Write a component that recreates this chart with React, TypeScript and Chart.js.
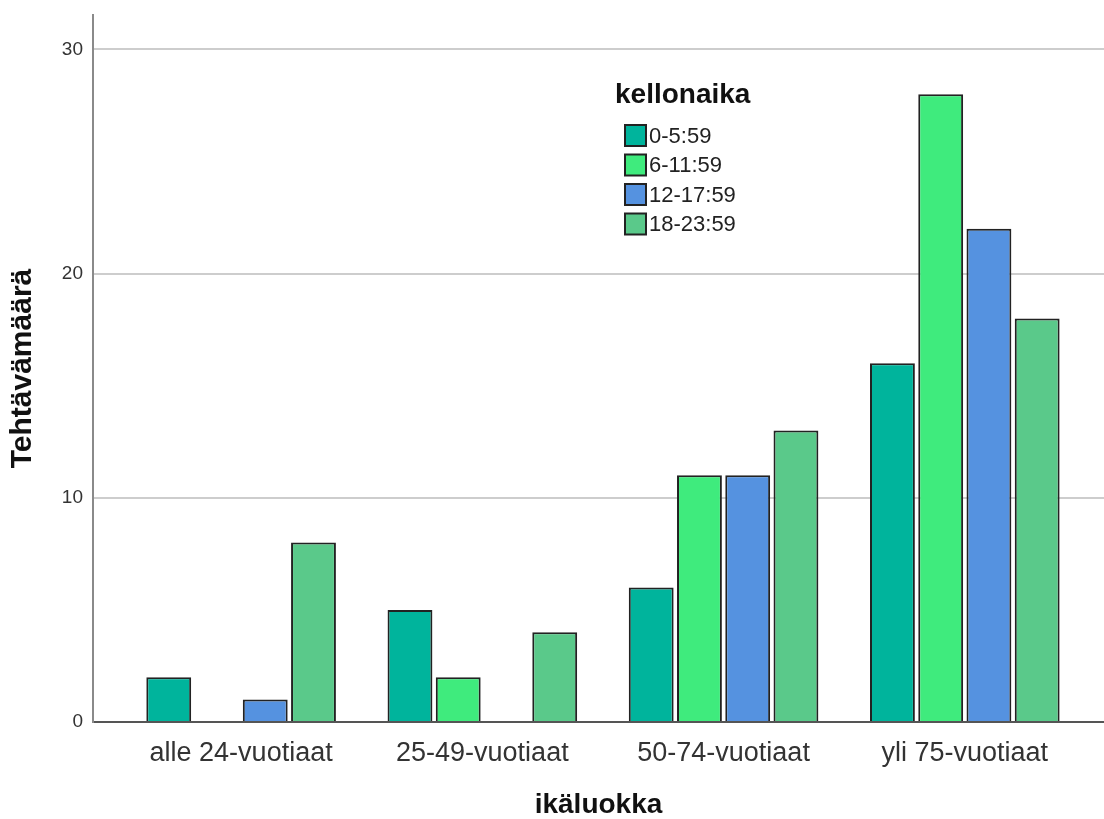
import React, { useEffect, useRef } from "react";
import { Chart, registerables } from "chart.js";

Chart.register(...registerables);

const categories = ["alle 24-vuotiaat", "25-49-vuotiaat", "50-74-vuotiaat", "yli 75-vuotiaat"];
const seriesNames = ["0-5:59", "6-11:59", "12-17:59", "18-23:59"];
const s0to6 = [2, 5, 6, 16];
const s6to12 = [null, 2, 11, 28];
const s12to18 = [1, null, 11, 22];
const s18to24 = [8, 4, 13, 18];
const seriesColors = ["#00B49C", "#3FEB7D", "#5592E0", "#5AC98A"];
const yTicks = [0, 10, 20, 30];
const legendTitle = "kellonaika";
const xTitle = "ikäluokka";
const yTitle = "Tehtävämäärä";

const FONT = "Arial, 'Liberation Sans', sans-serif";

const legendPlugin = {
  id: "customLegend",
  afterDraw(chart: any) {
    const { ctx, chartArea } = chart;
    const x0 = chartArea.left + 532;
    const y0 = chartArea.top;
    ctx.save();
    ctx.fillStyle = "#111";
    ctx.font = `bold 28px ${FONT}`;
    ctx.textBaseline = "alphabetic";
    ctx.textAlign = "left";
    ctx.fillText(legendTitle, x0 - 10, y0 + 88);
    ctx.font = `22px ${FONT}`;
    ctx.textBaseline = "middle";
    chart.data.datasets.forEach((ds: any, i: number) => {
      const by = y0 + 110 + i * 29.5;
      ctx.fillStyle = ds.backgroundColor;
      ctx.fillRect(x0, by, 21, 21);
      ctx.strokeStyle = "#222";
      ctx.lineWidth = 2;
      ctx.strokeRect(x0, by, 21, 21);
      ctx.fillStyle = "#222";
      ctx.fillText(ds.label, x0 + 24, by + 11.5);
    });
    ctx.restore();
  },
};

export default function App() {
  const ref = useRef<HTMLCanvasElement>(null);
  useEffect(() => {
    if (!ref.current) return;
    const series = [s0to6, s6to12, s12to18, s18to24];
    const chart = new Chart(ref.current, {
      type: "bar",
      data: {
        datasets: series.map((vals, k) => ({
          label: seriesNames[k],
          data: categories.map((_, i) => ({ x: i, y: vals[i] })) as any,
          backgroundColor: seriesColors[k],
          borderColor: "#222",
          borderWidth: 2,
          barPercentage: 0.93,
          categoryPercentage: 0.8,
        })),
      },
      options: {
        animation: false,
        responsive: true,
        maintainAspectRatio: false,
        layout: { padding: { top: 15, right: 0, left: 0, bottom: 0 } },
        plugins: { legend: { display: false }, tooltip: { enabled: false } },
        scales: {
          x: {
            type: "linear",
            offset: false,
            min: -0.614,
            max: 3.577,
            grid: { display: false, drawTicks: false, offset: false },
            border: { display: false },
            afterBuildTicks: (scale: any) => {
              scale.ticks = categories.map((_, i) => ({ value: i }));
            },
            afterFit: (scale: any) => {
              scale.height = 97;
              scale.paddingLeft = 0;
              scale.paddingRight = 0;
            },
            ticks: {
              autoSkip: false,
              maxRotation: 0,
              padding: 15,
              color: "#333",
              font: { family: FONT, size: 27 },
              callback: (v: any) => categories[v] ?? "",
            },
            title: {
              display: true,
              text: xTitle,
              color: "#111",
              font: { family: FONT, size: 28, weight: "bold", lineHeight: 1 },
              padding: { top: 0, bottom: 0 },
            },
          },
          y: {
            type: "linear",
            min: 0,
            max: 31.53,
            afterBuildTicks: (scale: any) => {
              scale.ticks = yTicks.map((v) => ({ value: v }));
            },
            afterFit: (scale: any) => {
              scale.width = 93;
              scale.paddingTop = 0;
              scale.paddingBottom = 0;
            },
            grid: {
              drawTicks: false,
              color: (c: any) => (c.tick && c.tick.value === 0 ? "#555" : "#cdcdcd"),
              lineWidth: 2,
            },
            border: { color: "#8a8a8a", width: 2 },
            ticks: {
              padding: 10,
              color: "#333",
              font: { family: FONT, size: 19 },
            },
            title: {
              display: true,
              text: yTitle,
              color: "#111",
              font: { family: FONT, size: 30, weight: "bold", lineHeight: 1 },
              padding: { top: 8, bottom: 0 },
            },
          },
        },
      },
      plugins: [legendPlugin],
    });
    return () => chart.destroy();
  }, []);
  return (
    <div style={{ position: "absolute", left: 0, top: 0, width: 1104, height: 819, background: "#fff" }}>
      <canvas ref={ref} />
    </div>
  );
}
